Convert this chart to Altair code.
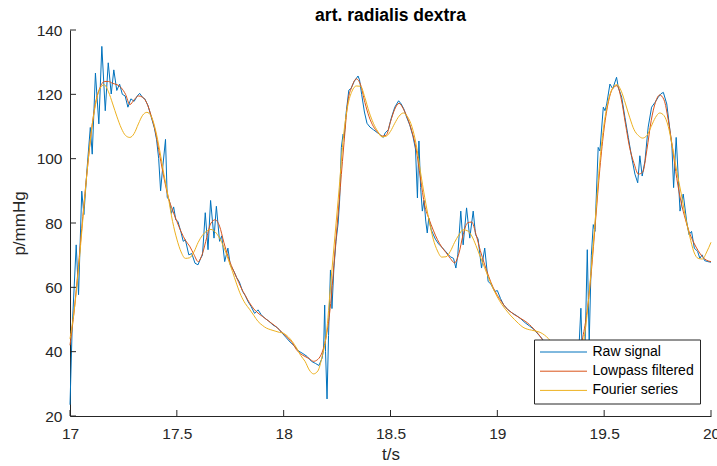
import altair as alt
import numpy as np
import pandas as pd

# Axis ticks
x_ticks = [17, 17.5, 18, 18.5, 19, 19.5, 20]
y_ticks = [20, 40, 60, 80, 100, 120, 140]

series_names = ["Raw signal", "Lowpass filtered", "Fourier series"]
series_colors = ["#0072BD", "#D95319", "#EDB120"]

# Smooth curves sampled every 20 ms from 17.00 s to 20.00 s
grid_t = np.round(np.linspace(17.0, 20.0, 151), 2)

lowpass_p = [
    42, 53, 67, 82, 96, 108.5, 117.5, 122, 124, 124,
    123.4, 123, 122, 120, 116.8, 118.3, 119.5, 119.1, 117.2, 113.3,
    108.3, 101, 94, 88, 84, 80.5, 77.3, 74.6, 72.8, 70.2,
    68, 70.5, 75.5, 80, 81, 79, 74, 69.5, 66, 63,
    60, 57.5, 55.2, 53.3, 52, 51, 50, 49, 48, 46.8,
    45.5, 44.2, 42.8, 40.6, 39.3, 38.5, 37.8, 37, 37.6, 39.8,
    45, 55, 71, 87, 103, 117.5, 122.5, 124.8, 123, 117.5,
    113, 110, 108.2, 107, 107.3, 111.5, 115.4, 117.2, 115.5, 112.5,
    108.5, 103, 94, 85.5, 81.3, 77.8, 74.8, 72.5, 70.8, 69,
    67.6, 70.5, 76.4, 80, 80.3, 76.5, 71.5, 67.2, 63.3, 60,
    57.5, 55.5, 53.7, 52.5, 51.5, 50.7, 49.9, 49, 47.8, 46.4,
    44.8, 42.8, 41, 39.5, 38.3, 37.4, 36.8, 36.5, 36.8, 39,
    44.5, 52.5, 65, 81, 97, 109.5, 117.7, 121.8, 122.7, 118.5,
    110.7, 103.2, 98.5, 95.2, 95.8, 102.8, 111.8, 117.5, 119.8, 118.3,
    112, 103.2, 93.8, 86.5, 81.2, 76.8, 73.8, 71.4, 69.5, 68.4,
    68,
]

fourier_p = [
    44, 53, 66, 81, 96, 108.5, 117, 121.8, 123, 120.8,
    117, 113, 109.5, 107.2, 106.6, 107.8, 110.8, 113.5, 114.4, 113.2,
    109, 102.5, 95, 88, 80.5, 75, 71, 69, 69.2, 71,
    74, 76.2, 77.5, 78, 77.2, 75.3, 72.5, 68.8, 65, 61,
    57.5, 55, 53.2, 51.3, 49.4, 48.2, 47.3, 46.8, 46.4, 46,
    45.7, 44.7, 43.2, 41.2, 38.8, 37, 34.3, 33.1, 34, 38.5,
    45.5, 61, 76, 91, 107, 116.5, 121, 122.6, 122.5, 119,
    114.5, 111, 108.5, 106.8, 107, 108.5, 111, 113.2, 114.2, 113,
    110, 104.5, 96, 88, 81, 75, 71.3, 69.4, 69.5, 71.2,
    74, 76.3, 77.9, 77.6, 76, 73, 69.5, 66.2, 62.8, 59.7,
    57, 54.8, 53, 51.4, 50, 48.7, 47.6, 47, 46.7, 46.4,
    46, 45.2, 44, 42.5, 40, 37.5, 35, 33.2, 33.2, 36,
    41.5, 51.5, 66, 82.5, 99.3, 111, 118.2, 122, 123, 121,
    117, 112.7, 109, 107.2, 106.4, 107.2, 110, 112.8, 114.2, 113.4,
    110, 103.5, 96, 89.3, 82, 76, 71, 69, 68.8, 71,
    74,
]

# Raw recording: vertices of the measured trace (s, mmHg)
raw_t = [
    17.000, 17.010, 17.029, 17.040, 17.055, 17.065, 17.080, 17.095, 17.104, 17.119,
    17.135, 17.149, 17.165, 17.179, 17.193, 17.205, 17.219, 17.232, 17.245, 17.258,
    17.271, 17.285, 17.300, 17.315, 17.326, 17.340, 17.350, 17.365, 17.380, 17.395,
    17.405, 17.415, 17.424, 17.432, 17.447, 17.455, 17.465, 17.475, 17.485, 17.495,
    17.505, 17.520, 17.530, 17.540, 17.556, 17.570, 17.585, 17.599, 17.612, 17.620,
    17.633, 17.646, 17.658, 17.674, 17.685, 17.700, 17.710, 17.724, 17.739, 17.750,
    17.768, 17.780, 17.792, 17.808, 17.820, 17.833, 17.848, 17.864, 17.880, 17.895,
    17.910, 17.930, 17.950, 17.970, 17.990, 18.010, 18.030, 18.050, 18.070, 18.090,
    18.110, 18.130, 18.150, 18.165, 18.180, 18.187, 18.192, 18.196, 18.203, 18.210,
    18.219, 18.226, 18.235, 18.245, 18.255, 18.262, 18.270, 18.278, 18.283, 18.292,
    18.305, 18.315, 18.330, 18.348, 18.355, 18.365, 18.378, 18.390, 18.404, 18.420,
    18.440, 18.458, 18.466, 18.475, 18.490, 18.503, 18.520, 18.538, 18.550, 18.562,
    18.575, 18.590, 18.605, 18.617, 18.626, 18.633, 18.641, 18.649, 18.657, 18.665,
    18.672, 18.679, 18.690, 18.697, 18.710, 18.725, 18.740, 18.760, 18.780, 18.795,
    18.806, 18.815, 18.829, 18.840, 18.856, 18.871, 18.887, 18.898, 18.910, 18.926,
    18.941, 18.957, 18.970, 18.988, 19.000, 19.015, 19.030, 19.050, 19.070, 19.090,
    19.110, 19.130, 19.150, 19.170, 19.190, 19.210, 19.230, 19.250, 19.270, 19.290,
    19.310, 19.330, 19.350, 19.365, 19.380, 19.391, 19.398, 19.405, 19.413, 19.421,
    19.430, 19.440, 19.449, 19.457, 19.472, 19.480, 19.496, 19.504, 19.512, 19.527,
    19.540, 19.558, 19.566, 19.582, 19.597, 19.613, 19.629, 19.644, 19.657, 19.667,
    19.678, 19.691, 19.706, 19.722, 19.738, 19.753, 19.766, 19.777, 19.793, 19.808,
    19.817, 19.825, 19.837, 19.855, 19.870, 19.886, 19.897, 19.909, 19.922, 19.937,
    19.948, 19.958, 19.970, 19.985, 20.000,
]

raw_p = [
    23.5, 47, 73.2, 57.7, 89.9, 82.6, 97, 109.7, 101.4, 126.6,
    110.8, 134.9, 114.9, 129.8, 120.1, 127.6, 121.2, 123.2, 120, 119.5,
    116, 118.6, 117.8, 119.5, 120.3, 119, 118.6, 116.5, 113, 109.5,
    106, 100, 90, 96, 106, 88, 87, 83, 85, 81,
    80.5, 77, 74.3, 74.8, 70.1, 70.5, 67.5, 67, 69.1, 70,
    83.2, 71.7, 87, 75.3, 85.2, 74.3, 76, 68, 72.2, 67,
    64.9, 63, 61.8, 58.7, 57.5, 55.6, 54, 51.9, 53, 51.5,
    50.5, 49.5, 48.3, 47.5, 46, 44.5, 43, 41.8, 40.2, 39.4,
    38.5, 37, 36.3, 35.7, 38, 41, 54.5, 40, 25.3, 45,
    65.4, 53.4, 66, 74.3, 80, 87.2, 103.5, 107.6, 106.5, 114,
    121.3, 121.8, 124, 125.7, 124.5, 120, 114.5, 111, 109.8, 109,
    108, 107.1, 106.6, 108, 109, 112.5, 116, 118, 117, 115.5,
    113, 110.5, 107, 103, 87.8, 105.5, 91, 83.7, 87, 80.6,
    76.9, 81.6, 78, 76.9, 75, 73.5, 72.5, 71, 69.5, 69,
    66, 70.1, 83.7, 73.2, 84.7, 75.3, 83.7, 76.4, 75, 66,
    72.2, 61.8, 61, 58.7, 59, 56.5, 54.5, 53, 52, 51.2,
    50.2, 49, 48, 47, 45.5, 44, 42, 40.2, 38.8, 37.8,
    37, 36.5, 36.4, 37, 38.5, 53.5, 38, 30, 48, 71.7,
    43, 70, 79.5, 77.4, 103.5, 102.4, 116, 114.9, 117, 123.2,
    121.7, 125.3, 122.2, 119.1, 112.9, 106.6, 100.4, 95.2, 92.5, 100.9,
    94.6, 99.3, 109.8, 116, 117.5, 119.1, 120.2, 120.6, 117, 108.7,
    104, 91, 106.6, 83.7, 89, 80.5, 76.4, 77.4, 72.2, 71.2,
    69, 70.1, 68.3, 68, 67.8,
]

W, H = 641, 386
FONT = "Liberation Sans"
INK = "#262626"

raw_df = pd.DataFrame({"t": raw_t, "p": raw_p, "series": series_names[0]})
low_df = pd.DataFrame({"t": grid_t, "p": lowpass_p, "series": series_names[1]})
fou_df = pd.DataFrame({"t": grid_t, "p": fourier_p, "series": series_names[2]})
xtick_df = pd.DataFrame({"t": x_ticks})
ytick_df = pd.DataFrame({"p": y_ticks})

x_scale = alt.Scale(domain=[17, 20], nice=False, zero=False)
y_scale = alt.Scale(domain=[20, 140], nice=False, zero=False)

axis_style = dict(
    grid=False, tickSize=0, domainColor=INK, labelFlush=False,
    labelFont=FONT, labelFontSize=15.5, labelColor=INK,
    titleFont=FONT, titleFontSize=17, titleFontWeight="normal", titleColor=INK,
)
x_axis = alt.Axis(values=x_ticks, format="~r", title="t/s",
                  labelPadding=10, titlePadding=5, **axis_style)
y_axis = alt.Axis(values=y_ticks, format="~r", title="p/mmHg",
                  labelPadding=8, titlePadding=8, **axis_style)


def xe():
    return alt.X("t:Q", scale=x_scale, axis=x_axis)


def ye():
    return alt.Y("p:Q", scale=y_scale, axis=y_axis)


# legend keys: 47 px long strokes; entry height clipped to the label height
color = alt.Color(
    "series:N",
    scale=alt.Scale(domain=series_names, range=series_colors),
    legend=alt.Legend(
        title=None, orient="none", legendX=464, legendY=309.5,
        fillColor="white", strokeColor=INK, padding=5.5, cornerRadius=0,
        symbolType="stroke", symbolSize=2209, symbolStrokeWidth=1,
        clipHeight=14,
        labelFont=FONT, labelFontSize=14, labelColor="black",
        labelOffset=5, rowPadding=5.2,
    ),
)

raw_line = alt.Chart(raw_df).mark_line(strokeWidth=1).encode(x=xe(), y=ye(), color=color)
low_line = alt.Chart(low_df).mark_line(strokeWidth=1, interpolate="monotone").encode(x=xe(), y=ye(), color=color)
fou_line = alt.Chart(fou_df).mark_line(strokeWidth=1, interpolate="monotone").encode(x=xe(), y=ye(), color=color)

# inward-pointing tick marks
x_tick_marks = alt.Chart(xtick_df).mark_rule(color=INK, strokeWidth=1).encode(
    x=xe(), y=alt.value(H), y2=alt.value(H - 6))
y_tick_marks = alt.Chart(ytick_df).mark_rule(color=INK, strokeWidth=1).encode(
    y=ye(), x=alt.value(0), x2=alt.value(6))

chart = alt.layer(raw_line, low_line, fou_line, x_tick_marks, y_tick_marks).properties(
    width=W, height=H,
    title=alt.TitleParams("art. radialis dextra", font=FONT, fontSize=17.5,
                          fontWeight="bold", color="black", anchor="middle", offset=-1),
    autosize=alt.AutoSizeParams(type="none"),
    padding={"left": 70, "top": 30, "right": 6, "bottom": 50},
    background="white",
).configure_view(stroke=None)

chart.save("out.html", embed_options={"renderer": "svg", "actions": False})
